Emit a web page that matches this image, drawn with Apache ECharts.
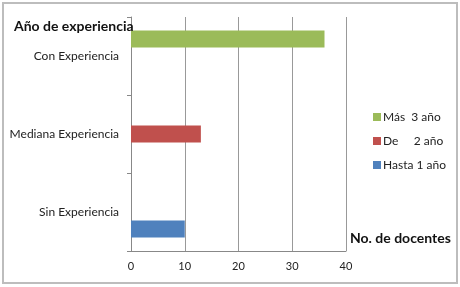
<!DOCTYPE html>
<html><head><meta charset="utf-8">
<script src="https://cdn.jsdelivr.net/npm/echarts@6/dist/echarts.min.js"></script>
<style>html,body{margin:0;padding:0;background:#fff}#c{width:460px;height:287px}</style>
</head><body><div id="c"></div>
<script>
var categories = ['Sin Experiencia', 'Mediana Experiencia', 'Con Experiencia'];
var seriesNames = ['Hasta 1 año', 'De     2 año', 'Más  3 año'];
var hastaValues = [10, null, null];
var deValues = [null, 13, null];
var masValues = [null, null, 36];
var xTicks = [0, 10, 20, 30, 40];
var colors = ['#4f81bd', '#c0504d', '#9bbb59'];
var FONT = 'Lato, "Open Sans", sans-serif';

var chart = echarts.init(document.getElementById('c'), null, {renderer: 'canvas'});
chart.setOption({
  animation: false,
  backgroundColor: '#fff',
  title: {
    text: 'Año de experiencia', left: 9, top: 14,
    textStyle: {fontFamily: FONT, fontSize: 14, fontWeight: 'bold', color: '#111'}
  },
  graphic: [
    {type: 'rect', shape: {x: 3, y: 3, width: 454, height: 280}, style: {fill: 'none', stroke: '#bdbdbd', lineWidth: 2}, silent: true},
    {type: 'text', left: 350, top: 231, style: {text: 'No. de docentes', font: 'bold 14px ' + FONT, fill: '#111'}}
  ],
  legend: {
    data: [seriesNames[2], seriesNames[1], seriesNames[0]],
    orient: 'vertical', left: 368, top: 106,
    itemWidth: 8, itemHeight: 8, itemGap: 12,
    icon: 'rect',
    textStyle: {fontFamily: FONT, fontSize: 12, color: '#222', padding: [0, 0, 0, -3]}
  },
  grid: {left: 131, right: 114, top: 17, bottom: 36, containLabel: false},
  xAxis: {
    type: 'value', min: xTicks[0], max: xTicks[xTicks.length - 1], interval: 10,
    axisLine: {show: true, lineStyle: {color: '#888'}},
    axisTick: {show: false},
    splitLine: {show: true, lineStyle: {color: '#999'}},
    axisLabel: {fontFamily: FONT, fontSize: 11, color: '#222', margin: 10}
  },
  yAxis: {
    type: 'category', data: categories,
    axisLine: {show: true, lineStyle: {color: '#888'}},
    axisTick: {show: true, length: 4, lineStyle: {color: '#888'}},
    axisLabel: {fontFamily: FONT, fontSize: 12, color: '#222', margin: 12}
  },
  series: [
    {name: seriesNames[2], type: 'bar', data: masValues, barWidth: 17, barGap: '0%', itemStyle: {color: colors[2]}},
    {name: seriesNames[1], type: 'bar', data: deValues, barWidth: 17, barGap: '0%', itemStyle: {color: colors[1]}},
    {name: seriesNames[0], type: 'bar', data: hastaValues, barWidth: 17, barGap: '0%', itemStyle: {color: colors[0]}}
  ]
});
</script></body></html>
